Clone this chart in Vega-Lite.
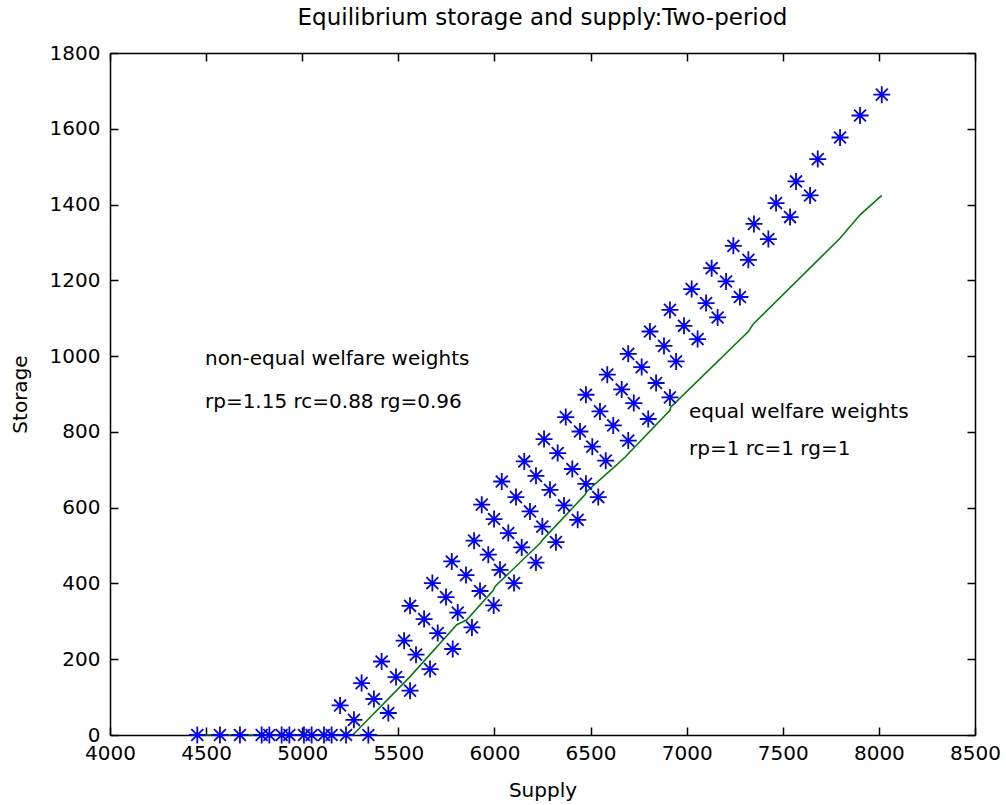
{
  "$schema": "https://vega.github.io/schema/vega-lite/v6.json",
  "width": 865,
  "height": 682,
  "autosize": "none",
  "padding": {"left": 110, "top": 53, "right": 31, "bottom": 70},
  "background": "white",
  "title": {
    "text": "Equilibrium storage and supply:Two-period",
    "font": "DejaVu Sans",
    "fontSize": 23,
    "fontWeight": "normal",
    "color": "black",
    "anchor": "middle",
    "baseline": "alphabetic",
    "offset": -5
  },
  "config": {
    "view": {"stroke": null},
    "font": "DejaVu Sans",
    "axis": {
      "domainColor": "black",
      "domainWidth": 1.5,
      "tickColor": "black",
      "tickWidth": 1.5,
      "tickSize": -8,
      "grid": false,
      "format": "d",
      "labelColor": "black",
      "labelFont": "DejaVu Sans",
      "labelFontSize": 20,
      "labelOverlap": false,
      "labelFlush": false,
      "titleFont": "DejaVu Sans",
      "titleFontSize": 20,
      "titleFontWeight": "normal",
      "titleColor": "black"
    }
  },
  "datasets": {
    "pts": [
      {"supply": 4454, "storage": 0}, {"supply": 4572, "storage": 0}, {"supply": 4676, "storage": 0},
      {"supply": 4789, "storage": 0}, {"supply": 4829, "storage": 0}, {"supply": 4893, "storage": 0},
      {"supply": 4933, "storage": 0}, {"supply": 5009, "storage": 0}, {"supply": 5049, "storage": 0},
      {"supply": 5113, "storage": 0}, {"supply": 5153, "storage": 0}, {"supply": 5228, "storage": 0},
      {"supply": 5344, "storage": 0},
      {"supply": 5197, "storage": 78}, {"supply": 5269, "storage": 40},
      {"supply": 5309, "storage": 137}, {"supply": 5373, "storage": 95}, {"supply": 5448, "storage": 58},
      {"supply": 5413, "storage": 194}, {"supply": 5488, "storage": 153}, {"supply": 5561, "storage": 117},
      {"supply": 5530, "storage": 249}, {"supply": 5592, "storage": 212}, {"supply": 5665, "storage": 174},
      {"supply": 5561, "storage": 341}, {"supply": 5634, "storage": 306}, {"supply": 5705, "storage": 269}, {"supply": 5783, "storage": 227},
      {"supply": 5677, "storage": 401}, {"supply": 5748, "storage": 364}, {"supply": 5809, "storage": 323}, {"supply": 5883, "storage": 284},
      {"supply": 5778, "storage": 458}, {"supply": 5852, "storage": 422}, {"supply": 5925, "storage": 380}, {"supply": 5996, "storage": 342},
      {"supply": 5894, "storage": 513}, {"supply": 5968, "storage": 476}, {"supply": 6029, "storage": 436}, {"supply": 6102, "storage": 401},
      {"supply": 5934, "storage": 608}, {"supply": 5998, "storage": 570}, {"supply": 6072, "storage": 533}, {"supply": 6142, "storage": 495}, {"supply": 6216, "storage": 455},
      {"supply": 6038, "storage": 669}, {"supply": 6112, "storage": 628}, {"supply": 6185, "storage": 590}, {"supply": 6249, "storage": 550}, {"supply": 6320, "storage": 509},
      {"supply": 6155, "storage": 722}, {"supply": 6216, "storage": 684}, {"supply": 6289, "storage": 647}, {"supply": 6362, "storage": 606}, {"supply": 6433, "storage": 568},
      {"supply": 6258, "storage": 781}, {"supply": 6329, "storage": 744}, {"supply": 6405, "storage": 702}, {"supply": 6476, "storage": 663}, {"supply": 6540, "storage": 628},
      {"supply": 6371, "storage": 839}, {"supply": 6445, "storage": 801}, {"supply": 6509, "storage": 761}, {"supply": 6579, "storage": 724},
      {"supply": 6476, "storage": 898}, {"supply": 6549, "storage": 854}, {"supply": 6618, "storage": 817}, {"supply": 6696, "storage": 777},
      {"supply": 6587, "storage": 951}, {"supply": 6662, "storage": 912}, {"supply": 6725, "storage": 876}, {"supply": 6800, "storage": 834},
      {"supply": 6696, "storage": 1006}, {"supply": 6766, "storage": 971}, {"supply": 6841, "storage": 929}, {"supply": 6913, "storage": 891},
      {"supply": 6809, "storage": 1065}, {"supply": 6882, "storage": 1027}, {"supply": 6945, "storage": 986},
      {"supply": 6913, "storage": 1122}, {"supply": 6986, "storage": 1080}, {"supply": 7057, "storage": 1045},
      {"supply": 7026, "storage": 1177}, {"supply": 7101, "storage": 1140}, {"supply": 7161, "storage": 1102},
      {"supply": 7130, "storage": 1232}, {"supply": 7205, "storage": 1197}, {"supply": 7277, "storage": 1156},
      {"supply": 7243, "storage": 1291}, {"supply": 7321, "storage": 1254},
      {"supply": 7350, "storage": 1349}, {"supply": 7425, "storage": 1309},
      {"supply": 7465, "storage": 1404}, {"supply": 7538, "storage": 1367},
      {"supply": 7569, "storage": 1461}, {"supply": 7642, "storage": 1424},
      {"supply": 7682, "storage": 1520}, {"supply": 7798, "storage": 1577},
      {"supply": 7902, "storage": 1635}, {"supply": 8015, "storage": 1690}
    ],
    "line": [
      {"supply": 4454, "storage": 0}, {"supply": 5263, "storage": 0}, {"supply": 5561, "storage": 154},
      {"supply": 5804, "storage": 291}, {"supply": 5856, "storage": 304}, {"supply": 5994, "storage": 382},
      {"supply": 6003, "storage": 392}, {"supply": 6237, "storage": 506}, {"supply": 6254, "storage": 517},
      {"supply": 6471, "storage": 634}, {"supply": 6480, "storage": 643}, {"supply": 6627, "storage": 709},
      {"supply": 6679, "storage": 733}, {"supply": 6913, "storage": 857}, {"supply": 6917, "storage": 865},
      {"supply": 7321, "storage": 1065}, {"supply": 7347, "storage": 1085}, {"supply": 7798, "storage": 1311},
      {"supply": 7902, "storage": 1373}, {"supply": 8015, "storage": 1424}
    ],
    "notes": [
      {"supply": 4494, "storage": 977, "label": "non-equal welfare weights"},
      {"supply": 4494, "storage": 863, "label": "rp=1.15 rc=0.88 rg=0.96"},
      {"supply": 7012, "storage": 836, "label": "equal welfare weights"},
      {"supply": 7012, "storage": 740, "label": "rp=1 rc=1 rg=1"}
    ]
  },
  "layer": [
    {
      "data": {"name": "line"},
      "mark": {"type": "line", "color": "#008000", "strokeWidth": 1.6},
      "encoding": {
        "x": {"field": "supply", "type": "quantitative", "scale": {"domain": [4000, 8500], "nice": false, "zero": false},
              "axis": {"orient": "top", "labels": false, "title": null, "values": [4000, 4500, 5000, 5500, 6000, 6500, 7000, 7500, 8000, 8500]}},
        "y": {"field": "storage", "type": "quantitative", "scale": {"domain": [0, 1800], "nice": false, "zero": false},
              "axis": {"orient": "right", "labels": false, "title": null, "values": [0, 200, 400, 600, 800, 1000, 1200, 1400, 1600, 1800]}}
      }
    },
    {
      "data": {"name": "pts"},
      "mark": {"type": "point", "shape": "M-1,0L1,0M0,-1L0,1M-0.7,-0.7L0.7,0.7M-0.7,0.7L0.7,-0.7", "filled": false, "color": "#0000FF", "strokeWidth": 1.8, "size": 289, "opacity": 1},
      "encoding": {
        "x": {"field": "supply", "type": "quantitative", "scale": {"domain": [4000, 8500], "nice": false, "zero": false},
              "axis": {"orient": "bottom", "title": "Supply", "labelPadding": 16, "titlePadding": 17, "values": [4000, 4500, 5000, 5500, 6000, 6500, 7000, 7500, 8000, 8500]}},
        "y": {"field": "storage", "type": "quantitative", "scale": {"domain": [0, 1800], "nice": false, "zero": false},
              "axis": {"orient": "left", "title": "Storage", "labelPadding": 18, "titlePadding": 19, "values": [0, 200, 400, 600, 800, 1000, 1200, 1400, 1600, 1800]}}
      }
    },
    {
      "data": {"name": "notes"},
      "mark": {"type": "text", "align": "left", "baseline": "alphabetic", "font": "DejaVu Sans", "fontSize": 20, "color": "black"},
      "encoding": {
        "x": {"field": "supply", "type": "quantitative", "scale": {"domain": [4000, 8500], "nice": false, "zero": false}, "axis": null},
        "y": {"field": "storage", "type": "quantitative", "scale": {"domain": [0, 1800], "nice": false, "zero": false}, "axis": null},
        "text": {"field": "label", "type": "nominal"}
      }
    }
  ],
  "resolve": {"scale": {"x": "independent", "y": "independent"}, "axis": {"x": "independent", "y": "independent"}}
}
